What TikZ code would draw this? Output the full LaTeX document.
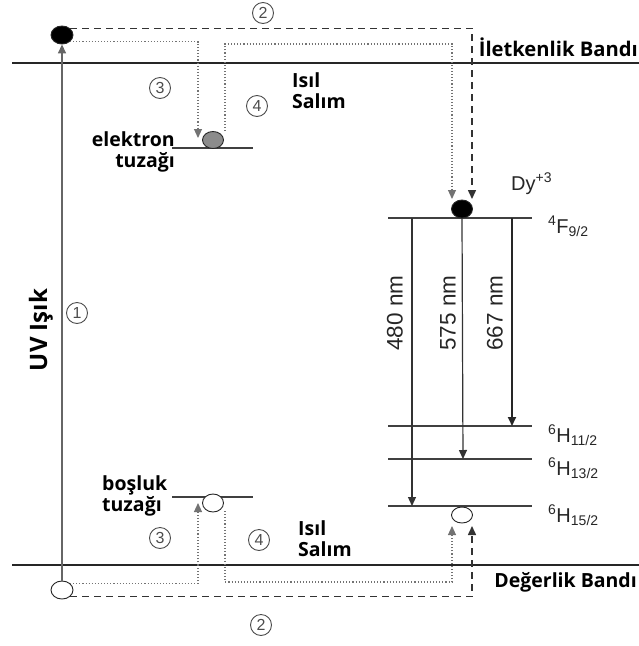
\documentclass[tikz,border=0pt]{standalone}
\usepackage{fontspec}
\setmainfont{Open Sans}
\newfontfamily\arialf{Liberation Sans}
\usetikzlibrary{arrows.meta,shapes.geometric}

\begin{document}
\begin{tikzpicture}[x=1pt,y=-1pt,
 band/.style={line width=2.6pt,black!85},
 level/.style={line width=1.3pt,black!75},
 carrier/.style={ellipse,draw=black!85,line width=.9pt,inner sep=0pt,minimum width=21pt,minimum height=17pt},
 dashpath/.style={line width=1.5pt,black!80,dash pattern=on 7pt off 5pt},
 dotpath/.style={line width=1.1pt,black!55,dotted},
 tip/.style={-{Triangle[length=9pt,width=8pt]}},
 lbl/.style={font=\bfseries\fontsize{19.5}{21}\selectfont,inner sep=0pt},
 term/.style={font=\arialf\fontsize{20}{22}\selectfont,text=black!85,inner sep=0pt},
 wave/.style={term,font=\arialf\fontsize{22.5}{24}\selectfont},
 num/.style={circle,draw=black!70,line width=.9pt,inner sep=0pt,minimum size=21pt,
  font=\arialf\fontsize{16}{16}\selectfont,text=black!70}]
\useasboundingbox (0,0) rectangle (639,646);
% bands
\draw[band] (12,63) -- (639,63);
\draw[band] (12,565) -- (639,565);
\node[lbl,anchor=base east,font=\bfseries\fontsize{20.2}{22}\selectfont] (cb) at (638,56) {İletkenlik Bandı};
\node[lbl,anchor=base east] (vb) at (637,587) {Değerlik Bandı};
% trap levels
\draw[level] (172,148) -- (253,148);
\draw[level] (172,497) -- (253,497);
% Dy levels
\foreach \y in {218,426,459,506}
 \draw[level] (388,\y) -- (532,\y);
% carriers
\node[carrier,fill=black,minimum width=22pt,minimum height=18pt] (eTop) at (62,35) {};
\node[carrier,fill=white,minimum width=22pt,minimum height=18pt] (hBot) at (62,590) {};
\node[carrier,fill=black!45] (eTrap) at (213,140) {};
\node[carrier,fill=white,minimum height=18pt] (hTrap) at (213,503) {};
\node[carrier,fill=black,minimum height=18pt] (dyTop) at (462,209) {};
\node[carrier,fill=white,minimum height=16pt] (dyBot) at (462,515) {};
% UV excitation
\draw[line width=1.5pt,black!60,tip] (hBot) -- (eTop);
\node[lbl,rotate=90,font=\bfseries\fontsize{24}{26}\selectfont] (uv) at (41,330) {UV Işık};
\node[num] (n1) at (77,313) {1};
% step 2
\coordinate (dyIn2) at (472,199);
\coordinate (dyOut2) at (472,526);
\draw[dashpath,tip] (eTop.north east) -| (dyIn2);
\draw[dashpath,tip] (hBot.south east) -| (dyOut2);
\node[num] (n2a) at (263,13) {2};
\node[num] (n2b) at (261,625) {2};
% step 3
\coordinate (eTrapIn) at (198,138);
\coordinate (hTrapIn) at (198,503);
\draw[dotpath,tip] (eTop.south east) -| (eTrapIn);
\draw[dotpath,tip] (hBot.north east) -| (hTrapIn);
\node[num] (n3a) at (160,88) {3};
\node[num] (n3b) at (160,538) {3};
% step 4
\coordinate (eOut) at (225,131);
\coordinate (hOut) at (225,511);
\coordinate (dyIn1) at (452,199);
\coordinate (dyOut1) at (452,526);
\draw[dotpath,tip] (eOut) -- ++(0,-87) -| (dyIn1);
\draw[dotpath,tip] (hOut) -- ++(0,71) -| (dyOut1);
\node[num] (n4a) at (257,106) {4};
\node[num] (n4b) at (259,540) {4};
\node[lbl,anchor=base west,align=left] (heatA) at (292,108) {Isıl\\Salım};
\node[lbl,anchor=base west,align=left] (heatB) at (298,556) {Isıl\\Salım};
% trap labels
\node[lbl,anchor=base east,align=right] (eLbl) at (175,167) {elektron\\tuzağı};
\node[lbl,anchor=base west,align=left] (hLbl) at (102,511) {boşluk\\tuzağı};
% emissions
\draw[line width=1.2pt,black!80,tip] (412,218) -- (412,506);
\draw[line width=1.2pt,black!80,tip] (dyTop.south) -- (463,459);
\draw[line width=1.8pt,black!85,tip] (512,218) -- (512,426);
\node[wave,rotate=90] (w480) at (395,313) {480 nm};
\node[wave,rotate=90] (w575) at (448,313) {575 nm};
\node[wave,rotate=90] (w667) at (495,313) {667 nm};
% term symbols
\node[term,anchor=base west] (dy) at (511,190) {Dy\textsuperscript{+3}};
\node[term,anchor=base west] (t1) at (548,233) {\textsuperscript{4}F\textsubscript{9/2}};
\node[term,anchor=base west] (t2) at (548,442) {\textsuperscript{6}H\textsubscript{11/2}};
\node[term,anchor=base west] (t3) at (548,475) {\textsuperscript{6}H\textsubscript{13/2}};
\node[term,anchor=base west] (t4) at (548,522) {\textsuperscript{6}H\textsubscript{15/2}};
\end{tikzpicture}
\end{document}
